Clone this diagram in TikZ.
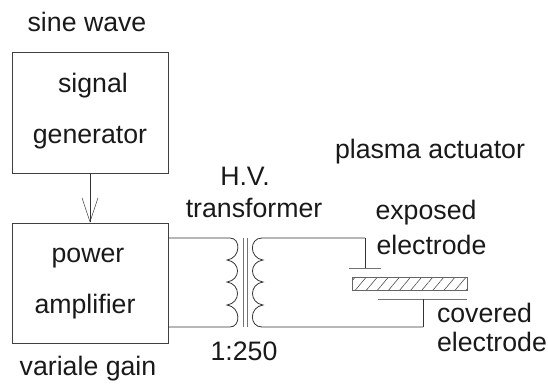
\documentclass[tikz,border=0pt]{standalone}
\usepackage{fontspec}
\setmainfont{Liberation Sans}
\usetikzlibrary{arrows.meta,patterns.meta}
\tikzset{
  blockbox/.style={draw=black!75,minimum width=156pt,inner sep=0pt},
  lbl/.style={font=\fontsize{26.7}{30}\selectfont,inner sep=0pt,anchor=base,text=black!90},
  wire/.style={draw=black!80,line width=0.8pt},
  gray wire/.style={draw=black!55,line width=1pt}
}
\begin{document}
\begin{tikzpicture}[x=1pt,y=-1pt,line width=0.8pt]
  \useasboundingbox (0,0) rectangle (548,383);
  \node[blockbox,minimum height=121pt] (gen) at (90,112.5) {};
  \node[blockbox,minimum height=120pt] (amp) at (90,283) {};
  \node[lbl] (sine) at (87,31) {sine wave};
  \node[lbl] (signal) at (93,92) {signal};
  \node[lbl] (generator) at (90,143) {generator};
  \node[lbl] (powerlbl) at (88,262) {power};
  \node[lbl] (amplifier) at (85,313) {amplifier};
  \node[lbl] (variale) at (88,375) {variale gain};
  \node[lbl] (hv) at (245,185) {H.V.};
  \node[lbl] (trans) at (254,217) {transformer};
  \node[lbl] (ratio) at (244,360) {1:250};
  \node[lbl] (plasma) at (430,158) {plasma actuator};
  \node[lbl] (exposed) at (426,219) {exposed};
  \node[lbl] (exelec) at (431.5,254) {electrode};
  \node[lbl] (covered) at (484.5,322) {covered};
  \node[lbl] (coelec) at (492,351) {electrode};
  % signal arrow
  \draw[wire,-{Straight Barb[length=24pt,width=16pt,line width=0.5pt]}] (gen.south) -- (amp.north);
  % transformer
  \coordinate (p1) at (168,238);
  \coordinate (p2) at (168,327);
  \coordinate (s1) at (365,238);
  \coordinate (s2) at (423,327);
  \draw[wire] (p1) -- (230,238)
    .. controls (241,238) and (241,258) .. (227,260)
    .. controls (241,262) and (241,280) .. (227,282)
    .. controls (241,284) and (241,303) .. (227,305)
    .. controls (241,307) and (241,327) .. (230,327) -- (p2);
  \draw[gray wire] (243,238) -- (243,327);
  \draw[gray wire] (247,238) -- (247,327);
  \draw[wire] (s1) -- (262,238)
    .. controls (249,238) and (249,258) .. (263,260)
    .. controls (249,262) and (249,280) .. (263,282)
    .. controls (249,284) and (249,303) .. (263,305)
    .. controls (249,307) and (249,327) .. (262,327) -- (s2);
  % actuator
  \coordinate (ex) at (365,268);
  \coordinate (co) at (423,299);
  \draw[wire] (s1) -- (ex);
  \draw[gray wire] (349,268) -- (381,268);
  \draw[draw=black!60,pattern={Lines[angle=50,distance=8.5pt,line width=0.6pt]},pattern color=black!70] (352,277) rectangle (467,290);
  \draw[gray wire] (378,299) -- (467,299);
  \draw[wire] (co) -- (s2);
\end{tikzpicture}
\end{document}
